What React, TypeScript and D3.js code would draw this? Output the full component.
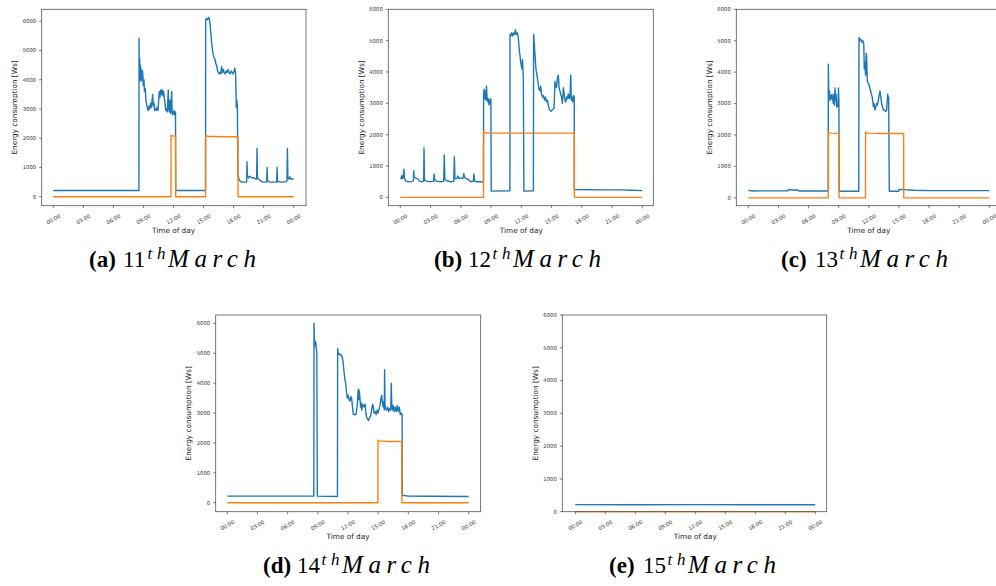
import React from "react";
import * as d3 from "d3";

type Pt = [number, number];

// ---------- DATA ----------
const xTickHours = [0, 3, 6, 9, 12, 15, 18, 21, 24];
const xTickLabels = ["00:00", "03:00", "06:00", "09:00", "12:00", "15:00", "18:00", "21:00", "00:00"];
const yTicks = [0, 1000, 2000, 3000, 4000, 5000, 6000];
const captionLetters = ["a", "b", "c", "d", "e"];
const captionDays = ["11", "12", "13", "14", "15"];

const blue11: Pt[] = [
  [0, 210], [8.55, 210], [8.56, 5420], [8.58, 4300], [8.62, 4750], [8.66, 4000], [8.7, 4500], [8.75, 3950],
  [8.8, 4350], [8.86, 4000], [8.92, 4300], [8.98, 3800], [9.05, 4000], [9.1, 3600], [9.18, 3700], [9.25, 3300],
  [9.32, 3150], [9.4, 3000], [9.48, 2950], [9.55, 3100], [9.62, 3000], [9.7, 3200], [9.78, 3050], [9.85, 3250],
  [9.92, 3500], [9.97, 3100], [10.05, 3200], [10.12, 2950], [10.2, 3000], [10.28, 2950], [10.35, 3050],
  [10.45, 2950], [10.52, 3300], [10.58, 3600], [10.65, 3400], [10.72, 3650], [10.8, 3500], [10.88, 3650],
  [10.95, 3450], [11.02, 3600], [11.1, 3300], [11.16, 3200], [11.22, 2950], [11.3, 3000], [11.38, 2900],
  [11.48, 3650], [11.53, 3000], [11.58, 2900], [11.65, 3300], [11.72, 2850], [11.82, 3600], [11.86, 2900],
  [11.92, 2800], [11.98, 2850], [12.05, 2950], [12.12, 2800], [12.2, 2900], [12.22, 210], [15.2, 210],
  [15.21, 6050], [15.3, 6100], [15.4, 6050], [15.5, 6130], [15.58, 6080], [15.65, 5900], [15.8, 5300],
  [15.9, 5000], [15.98, 4850], [16.05, 4750], [16.15, 4700], [16.22, 4550], [16.3, 4500], [16.4, 4300],
  [16.48, 4250], [16.56, 4200], [16.64, 4250], [16.72, 4200], [16.8, 4450], [16.88, 4250], [16.98, 4350],
  [17.05, 4250], [17.15, 4200], [17.25, 4300], [17.35, 4250], [17.45, 4350], [17.55, 4250], [17.65, 4200],
  [17.75, 4300], [17.85, 4250], [17.95, 4200], [18.05, 4300], [18.12, 4400], [18.2, 4200], [18.27, 3050],
  [18.32, 3300], [18.38, 3100], [18.42, 700], [18.5, 650], [18.6, 550], [18.8, 500], [19.0, 500], [19.3, 500],
  [19.34, 1200], [19.38, 700], [19.5, 650], [19.6, 700], [19.8, 650], [20.0, 650], [20.2, 600], [20.3, 600],
  [20.34, 1650], [20.38, 650], [20.5, 600], [20.8, 520], [21.0, 500], [21.3, 500], [21.34, 1000], [21.38, 550],
  [21.6, 500], [22.0, 500], [22.3, 500], [22.34, 1000], [22.38, 520], [22.8, 500], [23.2, 510], [23.33, 550],
  [23.37, 1650], [23.42, 650], [23.5, 600], [23.6, 680], [23.7, 600], [23.8, 620], [24.0, 600],
];
const orange11: Pt[] = [
  [0, 0], [11.75, 0], [11.76, 2100], [11.9, 2080], [12.2, 2070], [12.22, 0], [15.2, 0], [15.21, 2100],
  [15.4, 2070], [16, 2060], [17, 2050], [18.43, 2050], [18.44, 0], [24, 0],
];

const blue12: Pt[] = [
  [0, 620], [0.1, 600], [0.15, 700], [0.2, 600], [0.3, 650], [0.36, 900], [0.42, 600], [0.55, 520], [0.8, 500],
  [1.2, 510], [1.3, 530], [1.33, 850], [1.38, 650], [1.5, 620], [1.7, 600], [1.9, 520], [2.2, 500], [2.32, 520],
  [2.35, 1580], [2.4, 550], [2.6, 520], [3.0, 500], [3.3, 510], [3.36, 750], [3.42, 560], [3.6, 520], [4.0, 500],
  [4.3, 510], [4.36, 1350], [4.42, 580], [4.6, 530], [5.0, 500], [5.3, 510], [5.36, 1300], [5.42, 600],
  [5.6, 600], [5.7, 680], [5.8, 600], [6.0, 620], [6.2, 600], [6.3, 760], [6.4, 620], [6.6, 600], [6.8, 550],
  [7.0, 500], [7.25, 520], [7.3, 750], [7.36, 520], [7.6, 500], [8.0, 500], [8.25, 500], [8.26, 3300],
  [8.3, 3450], [8.36, 3150], [8.42, 3400], [8.5, 3100], [8.55, 3550], [8.6, 3200], [8.68, 3050], [8.74, 3150],
  [8.8, 2950], [8.86, 3100], [8.92, 3000], [8.98, 3150], [9.02, 200], [10.87, 210], [10.88, 5200],
  [10.95, 5150], [11.05, 5250], [11.15, 5150], [11.25, 5250], [11.35, 5200], [11.42, 5350], [11.5, 5200],
  [11.6, 5250], [11.7, 5100], [11.8, 4700], [11.88, 4500], [11.95, 4300], [12.05, 4100], [12.12, 4400],
  [12.2, 3800], [12.26, 200], [13.2, 210], [13.22, 5200], [13.28, 4950], [13.35, 4600], [13.45, 4100],
  [13.55, 3900], [13.65, 3700], [13.75, 3450], [13.85, 3400], [13.92, 3550], [14.0, 3300], [14.1, 3200],
  [14.2, 3250], [14.3, 3100], [14.4, 3200], [14.5, 3050], [14.6, 3100], [14.7, 2900], [14.8, 2800],
  [14.95, 2750], [15.1, 2800], [15.25, 2850], [15.34, 3700], [15.42, 3550], [15.5, 3500], [15.58, 3800],
  [15.67, 3900], [15.75, 3500], [15.83, 3400], [15.9, 3300], [16.0, 3200], [16.08, 3000], [16.17, 3500],
  [16.25, 3300], [16.33, 3100], [16.42, 3050], [16.5, 3200], [16.58, 3150], [16.66, 3300], [16.75, 3150],
  [16.83, 3200], [16.9, 3900], [16.96, 3100], [17.05, 3200], [17.12, 3050], [17.2, 3250], [17.25, 3200],
  [17.26, 250], [20, 240], [22, 240], [23, 230], [24, 215],
];
const orange12: Pt[] = [
  [0, 0], [8.25, 0], [8.26, 2100], [8.4, 2060], [9, 2050], [12, 2050], [17.25, 2050], [17.26, 0], [24, 0],
];

const blue13: Pt[] = [
  [0, 240], [0.3, 220], [3.95, 225], [3.98, 260], [4.5, 250], [4.98, 240], [5.02, 220], [7.96, 220],
  [7.97, 4250], [8.02, 3200], [8.08, 3400], [8.14, 3100], [8.2, 3250], [8.27, 3150], [8.33, 3300], [8.4, 3150],
  [8.47, 3000], [8.53, 3300], [8.58, 2950], [8.63, 3500], [8.68, 3100], [8.74, 3300], [8.8, 2900], [8.88, 3000],
  [8.93, 2900], [8.98, 3500], [9.02, 3100], [9.06, 210], [11.0, 210], [11.02, 5100], [11.1, 5000],
  [11.2, 5050], [11.3, 4950], [11.42, 5000], [11.5, 4900], [11.55, 4100], [11.62, 4300], [11.68, 3900],
  [11.74, 4600], [11.78, 4500], [11.85, 3700], [11.95, 3650], [12.02, 3600], [12.1, 3500], [12.18, 3400],
  [12.26, 3300], [12.35, 3200], [12.45, 2900], [12.53, 3000], [12.61, 2800], [12.7, 2900], [12.78, 3000],
  [12.86, 2950], [12.95, 3100], [13.03, 3250], [13.11, 3400], [13.2, 3200], [13.28, 3000], [13.36, 2900],
  [13.44, 2800], [13.55, 2800], [13.68, 2750], [13.78, 2800], [13.88, 3300], [13.94, 3150], [13.98, 3200],
  [14.04, 210], [14.98, 210], [15.0, 270], [15.5, 260], [16.5, 240], [18, 230], [24, 230],
];
const orange13: Pt[] = [
  [0, 0], [7.96, 0], [7.97, 2100], [8.1, 2060], [9.03, 2050], [9.04, 0], [11.67, 0], [11.68, 2100],
  [11.8, 2060], [13, 2050], [15.47, 2050], [15.48, 0], [24, 0],
];

const blue14: Pt[] = [
  [0, 220], [8.6, 220], [8.62, 6000], [8.66, 5400], [8.7, 5250], [8.75, 5400], [8.8, 5350], [8.85, 5150],
  [8.9, 5050], [8.95, 220], [10.95, 210], [10.97, 5150], [11.03, 4950], [11.1, 5000], [11.2, 4950],
  [11.3, 4950], [11.4, 4900], [11.5, 4750], [11.6, 4400], [11.7, 4100], [11.77, 4000], [11.85, 3700],
  [11.93, 3500], [12.03, 3600], [12.1, 3450], [12.2, 3400], [12.28, 3550], [12.36, 3500], [12.45, 3200],
  [12.53, 2950], [12.65, 2950], [12.79, 2950], [12.86, 3100], [12.93, 3300], [12.98, 3600], [13.03, 3800],
  [13.08, 3450], [13.12, 3750], [13.19, 3500], [13.25, 3200], [13.3, 3350], [13.36, 3100], [13.45, 3300],
  [13.52, 3250], [13.6, 3200], [13.7, 3300], [13.78, 3000], [13.86, 2850], [13.95, 2800], [14.05, 2750],
  [14.15, 2850], [14.25, 2900], [14.35, 3100], [14.45, 3300], [14.52, 3200], [14.6, 3000], [14.7, 3050],
  [14.8, 2950], [14.9, 3100], [15.0, 3000], [15.1, 3150], [15.2, 3300], [15.28, 3500], [15.35, 3600],
  [15.42, 3350], [15.5, 3200], [15.57, 3400], [15.61, 3100], [15.64, 4450], [15.68, 3300], [15.75, 3150],
  [15.85, 3100], [15.95, 3200], [16.05, 3050], [16.15, 3150], [16.25, 3100], [16.3, 4000], [16.35, 3300],
  [16.42, 3100], [16.5, 3250], [16.6, 3050], [16.7, 3200], [16.8, 3050], [16.9, 3250], [17.0, 3050],
  [17.1, 3200], [17.2, 2950], [17.3, 3000], [17.38, 2950], [17.4, 250], [18, 220], [20, 215], [24, 210],
];
const orange14: Pt[] = [
  [0, 0], [14.97, 0], [14.98, 2100], [15.1, 2070], [16, 2050], [17.34, 2050], [17.36, 0], [24, 0],
];

const blue15: Pt[] = [[0, 215], [6, 210], [12, 215], [18, 210], [24, 212]];
const orange15: Pt[] = [[0, 0], [24, 0]];

const blueSeries = [blue11, blue12, blue13, blue14, blue15];
const orangeSeries = [orange11, orange12, orange13, orange14, orange15];

// ---------- LAYOUT ----------
const layouts = [
  { left: 41.7, right: 306, top: 9.3, bottom: 205.7, x0: 53.3, x1: 293.7, yMin: -308, yMax: 6410, capX: 173, capY: 266.7 },
  { left: 388.3, right: 653.3, top: 9.3, bottom: 205.7, x0: 400.3, x1: 642.3, yMin: -265, yMax: 6000, capX: 518, capY: 266.7 },
  { left: 736.3, right: 1001, top: 9.3, bottom: 205.7, x0: 748.3, x1: 989.3, yMin: -250, yMax: 6000, capX: 865, capY: 266.7 },
  { left: 215.7, right: 480.7, top: 315, bottom: 511.7, x0: 227.3, x1: 468.7, yMin: -300, yMax: 6280, capX: 347, capY: 573 },
  { left: 562.3, right: 826.7, top: 315, bottom: 511.7, x0: 575.3, x1: 815.3, yMin: 0, yMax: 6000, capX: 693, capY: 573 },
];

const BLUE = "#1f77b4";
const ORANGE = "#ff7f0e";
const SANS = "DejaVu Sans";
const SERIF = "'Liberation Serif', 'Times New Roman', serif";

function Panel({ i }: { i: number }) {
  const L = layouts[i];
  const x = d3.scaleLinear().domain([0, 24]).range([L.x0, L.x1]);
  const y = d3.scaleLinear().domain([L.yMin, L.yMax]).range([L.bottom, L.top]);
  const line = d3.line<Pt>().x((d) => x(d[0])).y((d) => y(d[1]));
  const clipId = `clip${i}`;
  const midY = (L.top + L.bottom) / 2;
  const midX = (L.x0 + L.x1) / 2;
  return (
    <g>
      <defs>
        <clipPath id={clipId}>
          <rect x={L.left} y={L.top - 1} width={L.right - L.left} height={L.bottom - L.top + 2} />
        </clipPath>
      </defs>
      <g clipPath={`url(#${clipId})`}>
        <path d={line(blueSeries[i]) || ""} fill="none" stroke={BLUE} strokeWidth={1.4} strokeLinejoin="round" />
        <path d={line(orangeSeries[i]) || ""} fill="none" stroke={ORANGE} strokeWidth={1.4} strokeLinejoin="round" />
      </g>
      <rect x={L.left} y={L.top} width={L.right - L.left} height={L.bottom - L.top} fill="none" stroke="#555" strokeWidth={0.8} />
      {yTicks.map((t) => (
        <g key={t}>
          <line x1={L.left - 2.5} x2={L.left} y1={y(t)} y2={y(t)} stroke="#444" strokeWidth={0.7} />
          <text x={L.left - 5.5} y={y(t)} dy="0.35em" textAnchor="end" fontFamily={SANS} fontSize={5.3} fill="#333">
            {t}
          </text>
        </g>
      ))}
      {xTickHours.map((h, k) => (
        <g key={k}>
          <line x1={x(h)} x2={x(h)} y1={L.bottom} y2={L.bottom + 2.5} stroke="#444" strokeWidth={0.7} />
          <text
            transform={`translate(${x(h)},${L.bottom + 13.5}) rotate(-30)`}
            textAnchor="middle"
            dy="0.35em"
            fontFamily={SANS}
            fontSize={5.3}
            fill="#333"
          >
            {xTickLabels[k]}
          </text>
        </g>
      ))}
      <text x={midX} y={L.bottom + 24.5} dy="0.35em" textAnchor="middle" fontFamily={SANS} fontSize={7.3} fill="#222">
        Time of day
      </text>
      <text
        transform={`translate(${L.left - 27.3},${midY}) rotate(-90)`}
        textAnchor="middle"
        dy="0.35em"
        fontFamily={SANS}
        fontSize={7.3}
        fill="#222"
      >
        Energy consumption [Ws]
      </text>
      <Caption cx={L.capX} baseline={L.capY} letter={captionLetters[i]} day={captionDays[i]} />
    </g>
  );
}

function Caption({ cx, baseline, letter, day }: { cx: number; baseline: number; letter: string; day: string }) {
  const x0 = cx - 84;
  return (
    <g fontFamily={SERIF} fill="#000">
      <text x={x0} y={baseline} fontSize={23} fontWeight="bold">
        ({letter})
      </text>
      <text x={x0 + 34} y={baseline} fontSize={23}>
        {day}
      </text>
      <text x={x0 + 58.5} y={baseline - 8} fontSize={17} fontStyle="italic" textLength={18} lengthAdjust="spacing">
        th
      </text>
      <text x={x0 + 79} y={baseline} fontSize={25} fontStyle="italic" textLength={88} lengthAdjust="spacing">
        March
      </text>
    </g>
  );
}

export default function App() {
  return (
    <div style={{ position: "absolute", left: 0, top: 0, width: 996, height: 586, background: "#fff" }}>
      <svg width={996} height={586} viewBox="0 0 996 586" style={{ display: "block" }}>
        <rect width={996} height={586} fill="#fff" />
        {layouts.map((_, i) => (
          <Panel key={i} i={i} />
        ))}
      </svg>
    </div>
  );
}
